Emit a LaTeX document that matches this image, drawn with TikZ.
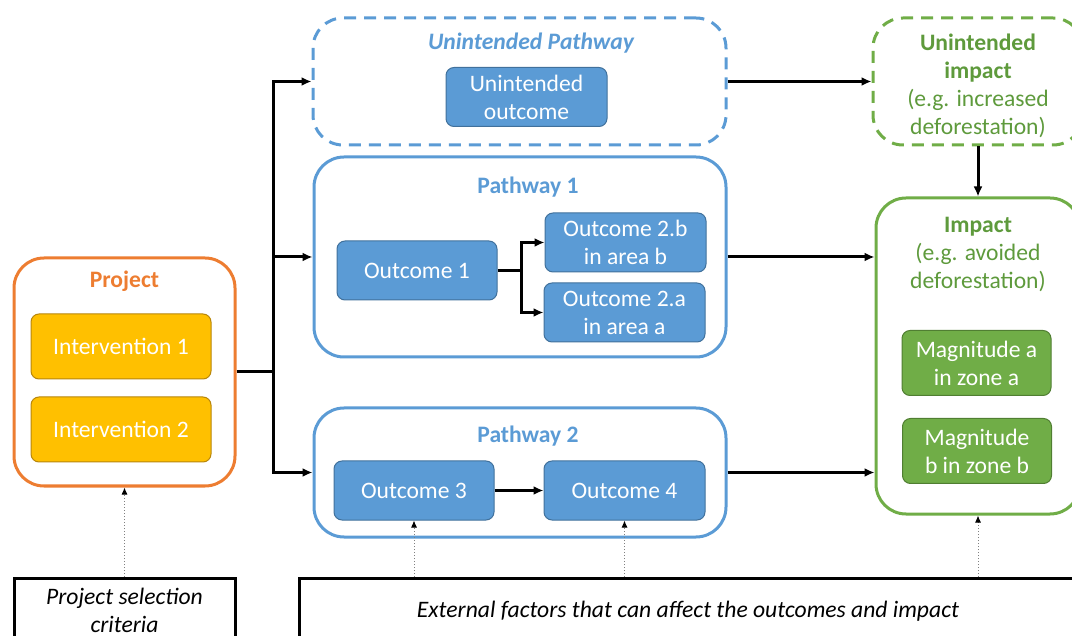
\documentclass[tikz,border=0pt]{standalone}
\usepackage{fontspec}
\setmainfont{Carlito}
\usepackage{tikz}
\usetikzlibrary{arrows.meta, positioning}
\definecolor{projorange}{HTML}{ED7D31}
\definecolor{intyellow}{HTML}{FFC000}
\definecolor{intedge}{HTML}{B8860B}
\definecolor{pathblue}{HTML}{5B9BD5}
\definecolor{outedge}{HTML}{41719C}
\definecolor{impgreen}{HTML}{70AD47}
\definecolor{imptext}{HTML}{5E9A3C}
\definecolor{magedge}{HTML}{507E32}

\begin{document}
\begin{tikzpicture}[
  x=0.5pt, y=-0.5pt,
  every node/.style={font=\fontsize{11.8}{14}\selectfont, align=center},
  group/.style={draw, rounded corners=15pt, line width=1.5pt, inner sep=0pt},
  dashgroup/.style={group, dash pattern=on 6pt off 4pt},
  item/.style={draw, rounded corners=4pt, line width=0.5pt, text=white, inner sep=1pt},
  intervention/.style={item, fill=intyellow, draw=intedge, minimum width=90pt, minimum height=32.5pt},
  outcome/.style={item, fill=pathblue, draw=outedge, minimum width=80.5pt, minimum height=29.5pt},
  magnitude/.style={item, fill=impgreen, draw=magedge, minimum width=74.5pt, minimum height=32.5pt},
  factorbox/.style={draw, line width=1.5pt, anchor=north, inner sep=0pt, font=\fontsize{11.8}{14}\selectfont\itshape},
  flow/.style={line width=1.5pt, -{Latex[length=5pt,width=4.5pt]}},
  influence/.style={draw=gray, densely dotted, line width=0.5pt, -{Latex[length=3.5pt,width=3pt,color=black]}}
]
\useasboundingbox (0,0) rectangle (1072,636);

% project side
\node[group, draw=projorange, minimum width=110.5pt, minimum height=114pt] (project) at (124.5,372) {};
\node[text=projorange, font=\fontsize{11.8}{14}\selectfont\bfseries] (projtitle) at (124.5,281) {Project};
\node[intervention] (interv1) at (121,346.5) {Intervention 1};
\node[intervention] (interv2) at (121,429.5) {Intervention 2};
\node[factorbox, minimum width=110.5pt, minimum height=32pt] (selection) at (124.5,577) {Project selection\\criteria};

% pathways
\node[dashgroup, draw=pathblue, minimum width=206.5pt, minimum height=63.5pt] (unpath) at (519.5,81.5) {};
\node[text=pathblue, font=\fontsize{11.8}{14}\selectfont\bfseries\itshape] (unpathtitle) at (531,43) {Unintended Pathway};
\node[outcome] (unout) at (526.5,97) {Unintended\\outcome};

\node[group, draw=pathblue, minimum width=206pt, minimum height=100pt] (path1) at (520,257) {};
\node[text=pathblue, font=\fontsize{11.8}{14}\selectfont\bfseries] (path1title) at (528,187) {Pathway 1};
\node[outcome, minimum width=80pt] (out1) at (417,270.5) {Outcome 1};
\node[outcome] (out2b) at (625.5,242.5) {Outcome 2.b\\in area b};
\node[outcome] (out2a) at (624.5,312.5) {Outcome 2.a\\in area a};

\node[group, draw=pathblue, minimum width=206pt, minimum height=64.5pt] (path2) at (520,472.5) {};
\node[text=pathblue, font=\fontsize{11.8}{14}\selectfont\bfseries] (path2title) at (528,436) {Pathway 2};
\node[outcome, minimum width=80pt] (out3) at (414,490.5) {Outcome 3};
\node[outcome] (out4) at (624.5,490.5) {Outcome 4};

\node[factorbox, minimum width=389pt, minimum height=33pt] (external) at (688,577) {External factors that can affect the outcomes and impact};

% impacts
\node[dashgroup, draw=impgreen, minimum width=105pt, minimum height=63.5pt] (unimpact) at (978,81.5) {};
\node[text=imptext] (unimptitle) at (978,85.5) {\textbf{Unintended}\\\textbf{impact}\\(e.g. increased\\deforestation)};
\node[group, draw=impgreen, minimum width=102pt, minimum height=158pt] (impact) at (978,356) {};
\node[text=imptext] (imptitle) at (978,254) {\textbf{Impact}\\(e.g. avoided\\deforestation)};
\node[magnitude] (maga) at (976.5,363) {Magnitude a\\in zone a};
\node[magnitude] (magb) at (977,451) {Magnitude\\b in zone b};

% connectors
\coordinate (split) at (273,372);
\coordinate (fork) at (521,270.5);
\draw[line width=1.5pt] (project.east) -- (split);
\draw[flow] (split) |- (unpath.west);
\draw[flow] (split) |- (path1.west);
\draw[flow] (split) |- (path2.west);
\draw[line width=1.5pt] (out1.east) -- (fork);
\draw[flow] (fork) |- (out2b.west);
\draw[flow] (fork) |- (out2a.west);
\draw[flow] (out3) -- (out4);
\draw[flow] (unpath.east) -- (unimpact.west);
\draw[flow] (path1.east) -- (path1.east -| impact.west);
\draw[flow] (path2.east) -- (path2.east -| impact.west);
\draw[flow] (unimpact.south) -- (impact.north);

\draw[influence] (selection.north) -- (project.south);
\draw[influence] (external.north -| out3.south) -- (out3.south);
\draw[influence] (external.north -| out4.south) -- (out4.south);
\draw[influence] (external.north -| impact.south) -- (impact.south);
\end{tikzpicture}
\end{document}
